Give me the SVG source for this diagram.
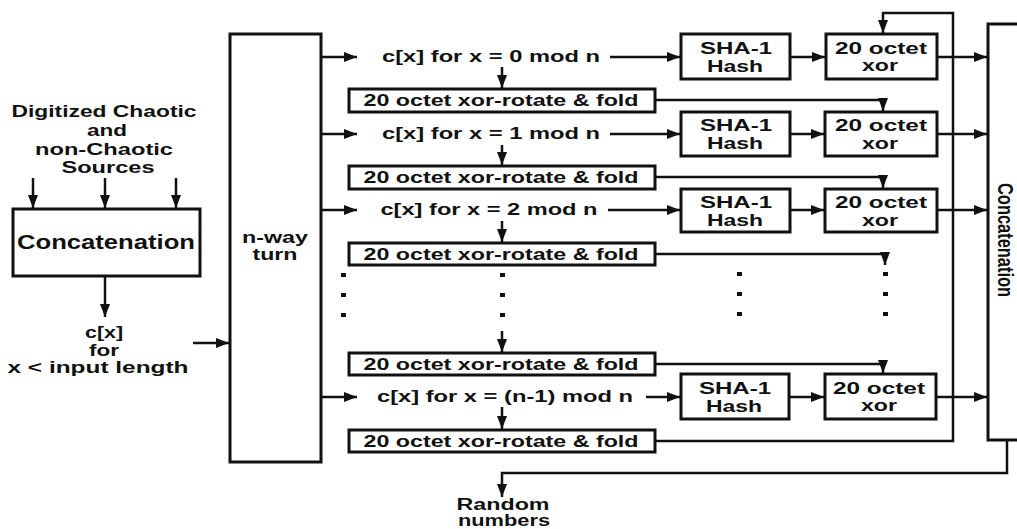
<svg xmlns="http://www.w3.org/2000/svg" width="1017" height="529" viewBox="0 0 1017 529">
<defs>
<marker id="ah" markerUnits="userSpaceOnUse" markerWidth="14" markerHeight="10" refX="13" refY="5" orient="auto">
<path d="M0,0 L13,5 L0,10 z" fill="#111"/>
</marker>
<style>
.box{fill:#fff;stroke:#111;stroke-width:3}
.ln{fill:none;stroke:#111;stroke-width:2.5}
.ar{fill:none;stroke:#111;stroke-width:2.5;marker-end:url(#ah)}
text{font-family:"Liberation Sans",Arial,sans-serif;font-weight:bold;fill:#111;font-size:16px}
.c{text-anchor:middle}
.dot{fill:#111}
</style>
</defs>
<rect width="1017" height="529" fill="#fff"/>

<g id="sources">
<text x="104" y="117" class="c" textLength="185" lengthAdjust="spacingAndGlyphs">Digitized Chaotic</text>
<text x="107" y="136" class="c" textLength="40" lengthAdjust="spacingAndGlyphs">and</text>
<text x="104" y="155" class="c" textLength="138" lengthAdjust="spacingAndGlyphs">non-Chaotic</text>
<text x="108" y="173" class="c" textLength="93" lengthAdjust="spacingAndGlyphs">Sources</text>
</g>

<g id="concat-left">
<rect class="box" x="13" y="209" width="187" height="67"/>
<text x="106" y="249" class="c" style="font-size:20px" textLength="178" lengthAdjust="spacingAndGlyphs">Concatenation</text>
</g>

<g id="input-label">
<text x="104" y="338" class="c" textLength="38" lengthAdjust="spacingAndGlyphs">c[x]</text>
<text x="104" y="356" class="c" textLength="30" lengthAdjust="spacingAndGlyphs">for</text>
<text x="98" y="373" class="c" textLength="181" lengthAdjust="spacingAndGlyphs">x &lt; input length</text>
</g>

<g id="nway">
<rect class="box" x="230" y="34" width="91" height="428"/>
<text x="275" y="243" class="c" textLength="66" lengthAdjust="spacingAndGlyphs">n-way</text>
<text x="275" y="260" class="c" textLength="45" lengthAdjust="spacingAndGlyphs">turn</text>
</g>

<g id="row0-label"><text x="491" y="62" class="c" textLength="218" lengthAdjust="spacingAndGlyphs">c[x] for x = 0 mod n</text></g>
<g id="row1-label"><text x="491" y="139" class="c" textLength="218" lengthAdjust="spacingAndGlyphs">c[x] for x = 1 mod n</text></g>
<g id="row2-label"><text x="489" y="215" class="c" textLength="217" lengthAdjust="spacingAndGlyphs">c[x] for x = 2 mod n</text></g>
<g id="rowN-label"><text x="505" y="402" class="c" textLength="256" lengthAdjust="spacingAndGlyphs">c[x] for x = (n-1) mod n</text></g>

<g id="fold0"><rect class="box" x="349" y="89" width="306" height="23"/><text x="501" y="106" class="c" textLength="275" lengthAdjust="spacingAndGlyphs">20 octet xor-rotate &amp; fold</text></g>
<g id="fold1"><rect class="box" x="349" y="166" width="306" height="23"/><text x="501" y="183" class="c" textLength="275" lengthAdjust="spacingAndGlyphs">20 octet xor-rotate &amp; fold</text></g>
<g id="fold2"><rect class="box" x="349" y="243" width="306" height="22"/><text x="501" y="260" class="c" textLength="275" lengthAdjust="spacingAndGlyphs">20 octet xor-rotate &amp; fold</text></g>
<g id="foldN2"><rect class="box" x="349" y="353" width="306" height="22"/><text x="501" y="370" class="c" textLength="275" lengthAdjust="spacingAndGlyphs">20 octet xor-rotate &amp; fold</text></g>
<g id="foldN"><rect class="box" x="349" y="430" width="306" height="22"/><text x="501" y="447" class="c" textLength="275" lengthAdjust="spacingAndGlyphs">20 octet xor-rotate &amp; fold</text></g>

<g id="sha0"><rect class="box" x="681" y="34" width="109" height="45"/><text x="736" y="54" class="c" textLength="72" lengthAdjust="spacingAndGlyphs">SHA-1</text><text x="735" y="72" class="c" textLength="56" lengthAdjust="spacingAndGlyphs">Hash</text></g>
<g id="sha1"><rect class="box" x="681" y="112" width="109" height="44"/><text x="736" y="131" class="c" textLength="72" lengthAdjust="spacingAndGlyphs">SHA-1</text><text x="735" y="149" class="c" textLength="56" lengthAdjust="spacingAndGlyphs">Hash</text></g>
<g id="sha2"><rect class="box" x="681" y="189" width="109" height="43"/><text x="736" y="208" class="c" textLength="72" lengthAdjust="spacingAndGlyphs">SHA-1</text><text x="735" y="226" class="c" textLength="56" lengthAdjust="spacingAndGlyphs">Hash</text></g>
<g id="shaN"><rect class="box" x="681" y="374" width="108" height="45"/><text x="735" y="394" class="c" textLength="72" lengthAdjust="spacingAndGlyphs">SHA-1</text><text x="734" y="412" class="c" textLength="56" lengthAdjust="spacingAndGlyphs">Hash</text></g>

<g id="xor0"><rect class="box" x="826" y="34" width="111" height="45"/><text x="881" y="54" class="c" textLength="92" lengthAdjust="spacingAndGlyphs">20 octet</text><text x="880" y="71" class="c" textLength="36" lengthAdjust="spacingAndGlyphs">xor</text></g>
<g id="xor1"><rect class="box" x="825" y="112" width="112" height="44"/><text x="881" y="131" class="c" textLength="92" lengthAdjust="spacingAndGlyphs">20 octet</text><text x="880" y="149" class="c" textLength="36" lengthAdjust="spacingAndGlyphs">xor</text></g>
<g id="xor2"><rect class="box" x="825" y="189" width="112" height="43"/><text x="881" y="208" class="c" textLength="92" lengthAdjust="spacingAndGlyphs">20 octet</text><text x="880" y="226" class="c" textLength="36" lengthAdjust="spacingAndGlyphs">xor</text></g>
<g id="xorN"><rect class="box" x="825" y="374" width="111" height="45"/><text x="879" y="394" class="c" textLength="92" lengthAdjust="spacingAndGlyphs">20 octet</text><text x="879" y="411" class="c" textLength="36" lengthAdjust="spacingAndGlyphs">xor</text></g>

<g id="concat-right">
<rect class="box" x="988" y="24" width="50" height="416"/>
<text transform="translate(998,240) rotate(90)" class="c" style="font-size:22px" textLength="114" lengthAdjust="spacingAndGlyphs">Concatenation</text>
</g>

<g id="output-label">
<text x="503" y="510" class="c" textLength="93" lengthAdjust="spacingAndGlyphs">Random</text>
<text x="504" y="526" class="c" textLength="92" lengthAdjust="spacingAndGlyphs">numbers</text>
</g>

<g id="ellipsis">
<rect class="dot" x="341" y="273" width="5" height="4"/><rect class="dot" x="341" y="293" width="5" height="4"/><rect class="dot" x="341" y="313" width="5" height="4"/>
<rect class="dot" x="500" y="273" width="5" height="4"/><rect class="dot" x="500" y="293" width="5" height="4"/><rect class="dot" x="500" y="313" width="5" height="4"/>
<rect class="dot" x="737" y="272" width="5" height="4"/><rect class="dot" x="737" y="292" width="5" height="4"/><rect class="dot" x="737" y="312" width="5" height="4"/>
<rect class="dot" x="883" y="272" width="5" height="4"/><rect class="dot" x="883" y="292" width="5" height="4"/><rect class="dot" x="883" y="312" width="5" height="4"/>
</g>

<g id="connectors">
<line class="ar" x1="33" y1="178" x2="33" y2="208"/>
<line class="ar" x1="105" y1="178" x2="105" y2="208"/>
<line class="ar" x1="176" y1="178" x2="176" y2="208"/>
<line class="ar" x1="105" y1="277" x2="105" y2="317"/>
<line class="ar" x1="193" y1="343" x2="229" y2="343"/>
<line class="ar" x1="321" y1="57" x2="357" y2="57"/>
<line class="ar" x1="321" y1="134" x2="357" y2="134"/>
<line class="ar" x1="321" y1="210" x2="357" y2="210"/>
<line class="ar" x1="321" y1="397" x2="357" y2="397"/>
<line class="ar" x1="610" y1="57" x2="680" y2="57"/>
<line class="ar" x1="610" y1="134" x2="680" y2="134"/>
<line class="ar" x1="608" y1="210" x2="680" y2="210"/>
<line class="ar" x1="646" y1="397" x2="680" y2="397"/>
<line class="ar" x1="790" y1="57" x2="825" y2="57"/>
<line class="ar" x1="790" y1="134" x2="824" y2="134"/>
<line class="ar" x1="790" y1="210" x2="824" y2="210"/>
<line class="ar" x1="789" y1="397" x2="824" y2="397"/>
<line class="ar" x1="937" y1="57" x2="987" y2="57"/>
<line class="ar" x1="937" y1="134" x2="987" y2="134"/>
<line class="ar" x1="937" y1="210" x2="987" y2="210"/>
<line class="ar" x1="936" y1="397" x2="987" y2="397"/>
<line class="ar" x1="502" y1="67" x2="502" y2="88"/>
<line class="ar" x1="502" y1="145" x2="502" y2="165"/>
<line class="ar" x1="502" y1="221" x2="502" y2="242"/>
<line class="ar" x1="502" y1="331" x2="502" y2="352"/>
<line class="ar" x1="502" y1="407" x2="502" y2="429"/>
<polyline class="ar" points="655,100 883,100 883,111"/>
<polyline class="ar" points="655,177 883,177 883,188"/>
<polyline class="ar" points="655,254 885,254 885,265"/>
<polyline class="ar" points="655,364 883,364 883,373"/>
<polyline class="ar" points="655,441 953,441 953,13 883,13 883,33"/>
<polyline class="ar" points="1007,441 1007,473 502,473 502,497"/>
</g>
</svg>
